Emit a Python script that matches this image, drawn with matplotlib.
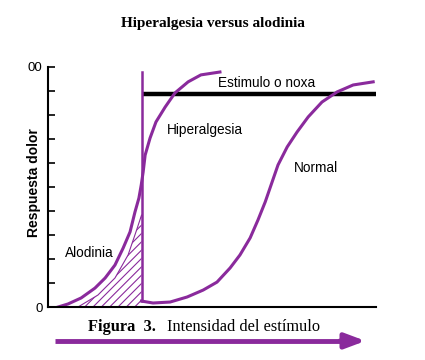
"""Hiperalgesia versus alodinia: pain response vs stimulus intensity."""

import matplotlib.pyplot as plt

PURPLE = "#8a2a9c"

# ---------------------------------------------------------------------------
# Data (axes 0..100 on both scales)
# ---------------------------------------------------------------------------
hiper_x = [3.0, 6.1, 10.1, 14.3, 17.4, 20.4, 22.9, 25.0, 26.5, 27.7, 28.4,
           29.0, 29.6, 31.1, 32.9, 35.7, 38.7, 42.7, 46.6, 52.4]
hiper_y = [0.0, 1.3, 3.8, 7.9, 12.1, 17.5, 24.6, 31.3, 39.6, 45.4, 50.8,
           56.3, 63.3, 70.4, 77.1, 83.3, 89.2, 93.8, 96.7, 97.9]

normal_x = [28.5, 32.0, 37.2, 42.4, 47.3, 51.5, 55.5, 58.5, 61.6, 64.0,
            66.2, 68.3, 70.1, 72.9, 75.9, 79.3, 83.5, 88.1, 93.0, 99.1]
normal_y = [2.5, 1.7, 2.1, 4.2, 7.1, 10.4, 16.3, 21.7, 28.8, 36.3,
            43.8, 52.1, 59.2, 66.7, 72.9, 79.2, 85.4, 89.6, 92.5, 93.8]

alod_x = [9.1, 15.2, 20.4, 24.4, 26.8, 28.5]
alod_y = [0.0, 5.0, 12.1, 21.7, 31.3, 38.3]

shift_x = [28.5, 28.5]
shift_y = [2.5, 98.0]

noxa_x = [28.5, 100.0]
noxa_y = [88.9, 88.9]

ytick_vals = [0, 10, 20, 30, 40, 50, 60, 70, 80, 90, 100]
ytick_labels = ["0", "", "", "", "", "", "", "", "", "", "00"]

# ---------------------------------------------------------------------------
# Figure
# ---------------------------------------------------------------------------
fig = plt.figure(figsize=(4.25, 3.6), dpi=100)
ax = fig.add_axes([0.113, 0.147, 0.772, 0.667])
ax.set_xlim(0, 100)
ax.set_ylim(0, 100)

plt.rcParams["hatch.linewidth"] = 0.8
plt.rcParams["hatch.color"] = PURPLE
ax.fill_between(alod_x, alod_y, 0, facecolor="none", edgecolor=PURPLE,
                hatch="////", linewidth=0)
ax.plot(alod_x, alod_y, color=PURPLE, lw=0.8)

ax.plot(noxa_x, noxa_y, color="black", lw=3.2, solid_capstyle="butt")
ax.plot(shift_x, shift_y, color=PURPLE, lw=1.8)
ax.plot(hiper_x, hiper_y, color=PURPLE, lw=2.2, solid_joinstyle="round")
ax.plot(normal_x, normal_y, color=PURPLE, lw=2.2, solid_joinstyle="round")

font = "Liberation Sans"
ax.text(66.5, 93.3, "Estimulo o noxa", fontsize=9.8, family=font,
        ha="center", va="center")
ax.text(47.9, 73.8, "Hiperalgesia", fontsize=9.8, family=font,
        ha="center", va="center")
ax.text(81.7, 57.9, "Normal", fontsize=9.8, family=font,
        ha="center", va="center")
ax.text(12.5, 22.5, "Alodinia", fontsize=9.8, family=font,
        ha="center", va="center")

# axes styling
for side in ("top", "right"):
    ax.spines[side].set_visible(False)
ax.spines["left"].set_linewidth(1.5)
ax.spines["bottom"].set_linewidth(1.5)
ax.set_xticks([])
ax.set_yticks(ytick_vals)
ax.set_yticklabels(ytick_labels, family=font, fontsize=9.5)
ax.tick_params(axis="y", direction="in", length=5, width=1.2, pad=4)
ax.set_ylabel("Respuesta dolor", family=font, fontsize=10,
              fontweight="bold")
ax.yaxis.set_label_coords(-0.02, 0.517)

# title, caption and arrow
fig.text(0.5, 0.935, "Hiperalgesia versus alodinia", family="Liberation Serif",
         fontweight="bold", fontsize=11, ha="center", va="center")
fig.text(0.207, 0.092, "Figura  3.", family="Liberation Serif",
         fontweight="bold", fontsize=11.8, ha="left", va="center")
fig.text(0.393, 0.092, "Intensidad del estímulo", family="Liberation Serif",
         fontsize=11.8, ha="left", va="center")
fig.add_artist(plt.Line2D([0.13, 0.82], [0.053, 0.053], color=PURPLE, lw=3.5,
                          solid_capstyle="butt"))
ax.annotate("", xy=(0.86, 0.053), xytext=(0.80, 0.053),
            xycoords="figure fraction", textcoords="figure fraction",
            arrowprops=dict(arrowstyle="-|>,head_length=1.2,head_width=0.45",
                            color=PURPLE, lw=3.5, shrinkA=0, shrinkB=0))

fig.savefig("out.png", dpi=100)
